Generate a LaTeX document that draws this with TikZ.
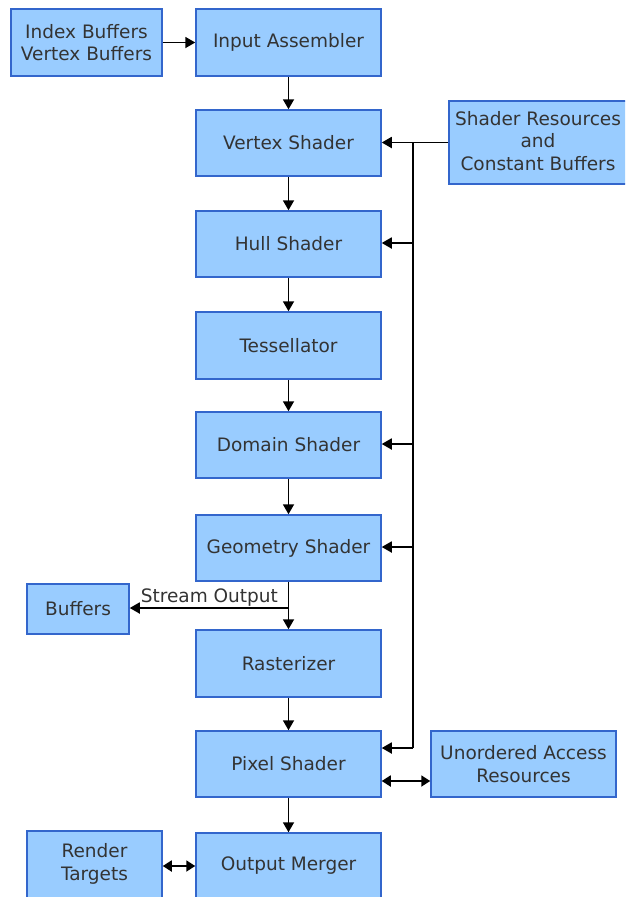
\documentclass[tikz,border=0pt]{standalone}
\usepackage{fontspec}
\setmainfont{DejaVu Sans}
\usetikzlibrary{arrows.meta}
\definecolor{boxfill}{HTML}{99CCFF}
\definecolor{boxline}{HTML}{3366CC}
\definecolor{txt}{HTML}{333333}
\begin{document}
\begin{tikzpicture}[x=1pt,y=-1pt,
  lbl/.style={text=txt,font=\fontsize{18.5}{22.5}\selectfont},
  stage/.style={draw=boxline,fill=boxfill,line width=1.5pt,lbl,align=center,inner sep=0pt},
  flow/.style={line width=1.8pt,-{Triangle[length=10pt,width=11pt]}},
  both/.style={line width=1.8pt,{Triangle[length=9pt,width=11pt]}-{Triangle[length=9pt,width=11pt]}}]
\useasboundingbox (0,0) rectangle (625,897);
\begin{scope}
\clip (0,0) rectangle (625,897);
% main pipeline stages
\node[stage,minimum width=185pt,minimum height=67pt] (ia) at (288.5,42.5) {Input Assembler};
\node[stage,minimum width=185pt,minimum height=66pt] (vs) at (288.5,143) {Vertex Shader};
\node[stage,minimum width=185pt,minimum height=66pt] (hs) at (288.5,244) {Hull Shader};
\node[stage,minimum width=185pt,minimum height=67pt] (ts) at (288.5,345.5) {Tessellator};
\node[stage,minimum width=185pt,minimum height=66pt] (ds) at (288.5,445) {Domain Shader};
\node[stage,minimum width=185pt,minimum height=66pt] (gs) at (288.5,548) {Geometry Shader};
\node[stage,minimum width=185pt,minimum height=67pt] (rs) at (288.5,663.5) {Rasterizer};
\node[stage,minimum width=185pt,minimum height=66pt] (ps) at (288.5,764) {Pixel Shader};
\node[stage,minimum width=185pt,minimum height=80pt] (om) at (288.5,873) {};
\node[lbl] (omt) at (288.5,866) {Output Merger};
% resources around the pipeline
\node[stage,minimum width=151pt,minimum height=67pt] (ib) at (86.5,42.5) {Index Buffers\\Vertex Buffers};
\node[stage,minimum width=190pt,minimum height=83pt] (sr) at (544,142.5) {};
\node[lbl,align=center] (srt) at (538,141) {Shader Resources\\and\\Constant Buffers};
\node[stage,minimum width=102pt,minimum height=50pt] (bf) at (78,609) {Buffers};
\node[stage,minimum width=185pt,minimum height=66pt] (ua) at (523.5,764) {Unordered Access\\Resources};
\node[stage,minimum width=135pt,minimum height=80pt] (rt) at (94.5,871) {};
\node[lbl,align=center] (rtt) at (94.5,864) {Render\\Targets};
\end{scope}
% pipeline flow
\draw[flow] (ib) -- (ia);
\draw[flow] (ia) -- (vs);
\draw[flow] (vs) -- (hs);
\draw[flow] (hs) -- (ts);
\draw[flow] (ts) -- (ds);
\draw[flow] (ds) -- (gs);
\draw[flow] (gs) -- (rs);
\draw[flow] (rs) -- (ps);
\draw[flow] (ps) -- (om.north);
% stream output branch
\coordinate (so) at (289,608);
\draw[flow] (so) -- (bf.east |- so) node[pos=0.5,above=0pt,lbl,inner sep=1pt] (sol) {Stream Output};
% shader resource bus
\coordinate (bus) at (413,142.5);
\coordinate (busend) at (413,748);
\draw[line width=1.8pt] (sr.west |- bus) -- (bus) -- (busend);
\draw[flow] (bus) -- (vs.east |- bus);
\draw[flow] (413,243) -- (hs.east |- 0,243);
\draw[flow] (413,444) -- (ds.east |- 0,444);
\draw[flow] (413,547) -- (gs.east |- 0,547);
\draw[flow] (busend) -- (ps.east |- busend);
% read/write links
\draw[both] (ps.east |- 0,781) -- (ua.west |- 0,781);
\draw[both] (rt.east |- 0,866) -- (om.west |- 0,866);
\end{tikzpicture}
\end{document}
